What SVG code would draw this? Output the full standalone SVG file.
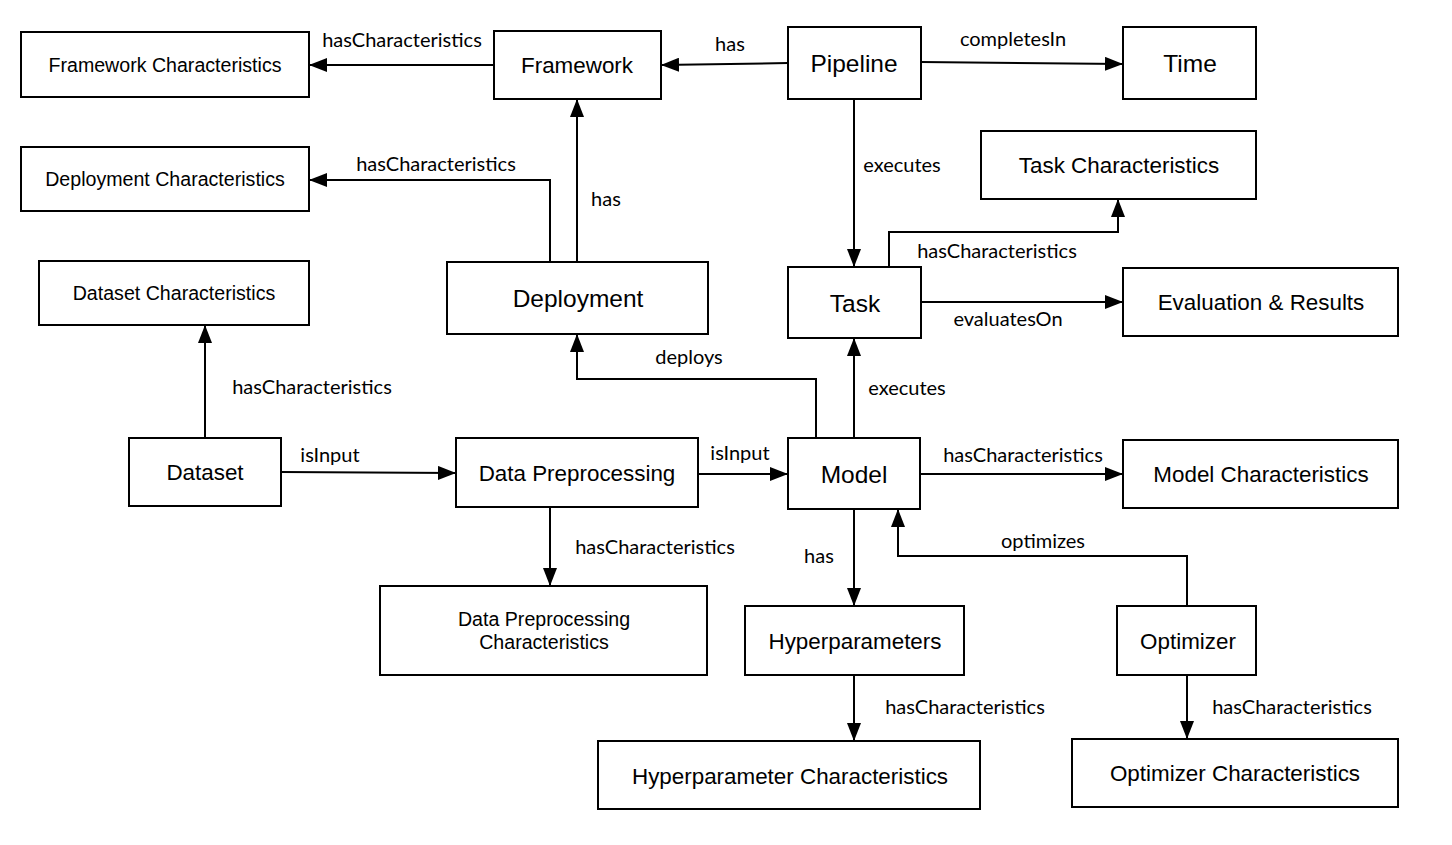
<svg xmlns="http://www.w3.org/2000/svg" width="1452" height="845" viewBox="0 0 1452 845">
<defs>
<marker id="ah" viewBox="0 0 18 14" refX="18" refY="7" markerWidth="18" markerHeight="14" markerUnits="userSpaceOnUse" orient="auto">
<path d="M0,0 L18,7 L0,14 Z" fill="#000"/>
</marker>
<style>
.box{fill:#fff;stroke:#000;stroke-width:2}
.t{font-family:"Liberation Sans",Arial,sans-serif;font-size:22.4px;text-anchor:middle;fill:#000}
.tl{font-family:"Liberation Sans",Arial,sans-serif;font-size:24.5px;text-anchor:middle;fill:#000}
.ts{font-family:"Liberation Sans",Arial,sans-serif;font-size:19.6px;text-anchor:middle;fill:#000}
.c{fill:none;stroke:#000;stroke-width:2;marker-end:url(#ah)}
.lb{font-family:Lato,"Open Sans",sans-serif;font-size:20px;text-anchor:middle;fill:#000}
</style>
</defs>
<rect width="1452" height="845" fill="#fff"/>
<g id="connectors">
<path class="c" d="M494,65 L309,65"/>
<path class="c" d="M788,63 L661,65"/>
<path class="c" d="M921,62 L1123,64"/>
<path class="c" d="M854,99 L854,267"/>
<path class="c" d="M550,262 L550,180 L309,180"/>
<path class="c" d="M577,262 L577,99"/>
<path class="c" d="M889,267 L889,232 L1118,232 L1118,199"/>
<path class="c" d="M921,302 L1123,302"/>
<path class="c" d="M854,438 L854,338"/>
<path class="c" d="M816,438 L816,379 L577,379 L577,334"/>
<path class="c" d="M205,438 L205,325"/>
<path class="c" d="M281,472 L456,473"/>
<path class="c" d="M698,474 L788,474"/>
<path class="c" d="M920,474 L1123,474"/>
<path class="c" d="M550,507 L550,586"/>
<path class="c" d="M854,509 L854,606"/>
<path class="c" d="M1187,606 L1187,556 L898,556 L898,509"/>
<path class="c" d="M854,675 L854,741"/>
<path class="c" d="M1187,675 L1187,739"/>
<text class="lb" x="402" y="47">hasCharacteristics</text>
<text class="lb" x="730" y="51">has</text>
<text class="lb" x="1013" y="46">completesIn</text>
<text class="lb" x="436" y="171">hasCharacteristics</text>
<text class="lb" x="606" y="206">has</text>
<text class="lb" x="902" y="172">executes</text>
<text class="lb" x="997" y="258">hasCharacteristics</text>
<text class="lb" x="1008" y="326">evaluatesOn</text>
<text class="lb" x="689" y="364">deploys</text>
<text class="lb" x="907" y="395">executes</text>
<text class="lb" x="312" y="394">hasCharacteristics</text>
<text class="lb" x="330" y="462">isInput</text>
<text class="lb" x="740" y="460">isInput</text>
<text class="lb" x="1023" y="462">hasCharacteristics</text>
<text class="lb" x="655" y="554">hasCharacteristics</text>
<text class="lb" x="819" y="563">has</text>
<text class="lb" x="1043" y="548">optimizes</text>
<text class="lb" x="965" y="714">hasCharacteristics</text>
<text class="lb" x="1292" y="714">hasCharacteristics</text>
</g>
<g id="framework-characteristics"><rect class="box" x="21" y="32" width="288" height="65"/><text class="ts" x="165" y="72">Framework Characteristics</text></g>
<g id="framework"><rect class="box" x="494" y="31" width="167" height="68"/><text class="t" x="577" y="73">Framework</text></g>
<g id="pipeline"><rect class="box" x="788" y="27" width="133" height="72"/><text class="tl" x="854" y="72">Pipeline</text></g>
<g id="time"><rect class="box" x="1123" y="27" width="133" height="72"/><text class="tl" x="1190" y="72">Time</text></g>
<g id="deployment-characteristics"><rect class="box" x="21" y="147" width="288" height="64"/><text class="ts" x="165" y="186">Deployment Characteristics</text></g>
<g id="task-characteristics"><rect class="box" x="981" y="131" width="275" height="68"/><text class="t" x="1119" y="173">Task Characteristics</text></g>
<g id="dataset-characteristics"><rect class="box" x="39" y="261" width="270" height="64"/><text class="ts" x="174" y="300">Dataset Characteristics</text></g>
<g id="deployment"><rect class="box" x="447" y="262" width="261" height="72"/><text class="tl" x="578" y="307">Deployment</text></g>
<g id="task"><rect class="box" x="788" y="267" width="133" height="71"/><text class="tl" x="855" y="312">Task</text></g>
<g id="evaluation-results"><rect class="box" x="1123" y="268" width="275" height="68"/><text class="t" x="1261" y="310">Evaluation &amp; Results</text></g>
<g id="dataset"><rect class="box" x="129" y="438" width="152" height="68"/><text class="t" x="205" y="480">Dataset</text></g>
<g id="data-preprocessing"><rect class="box" x="456" y="438" width="242" height="69"/><text class="t" x="577" y="481">Data Preprocessing</text></g>
<g id="model"><rect class="box" x="788" y="438" width="132" height="71"/><text class="tl" x="854" y="483">Model</text></g>
<g id="model-characteristics"><rect class="box" x="1123" y="440" width="275" height="68"/><text class="t" x="1261" y="482">Model Characteristics</text></g>
<g id="data-preprocessing-characteristics"><rect class="box" x="380" y="586" width="327" height="89"/><text class="ts" x="544" y="626">Data Preprocessing</text><text class="ts" x="544" y="649">Characteristics</text></g>
<g id="hyperparameters"><rect class="box" x="745" y="606" width="219" height="69"/><text class="t" x="855" y="649">Hyperparameters</text></g>
<g id="optimizer"><rect class="box" x="1117" y="606" width="139" height="69"/><text class="t" x="1188" y="649">Optimizer</text></g>
<g id="hyperparameter-characteristics"><rect class="box" x="598" y="741" width="382" height="68"/><text class="t" x="790" y="784">Hyperparameter Characteristics</text></g>
<g id="optimizer-characteristics"><rect class="box" x="1072" y="739" width="326" height="68"/><text class="t" x="1235" y="781">Optimizer Characteristics</text></g>
</svg>
